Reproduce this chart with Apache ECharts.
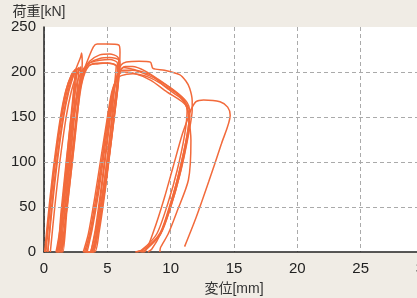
<!DOCTYPE html>
<html><head><meta charset="utf-8">
<script src="https://cdn.jsdelivr.net/npm/echarts@6/dist/echarts.min.js"></script>
<style>html,body{margin:0;padding:0;background:#f0ece5;}#c{width:417px;height:298px;}</style>
</head><body><div id="c"></div>
<script>
// Load [kN] vs displacement [mm] hysteresis curves, one array per specimen
var s1 = [[0.1,0],[0.45,50],[0.85,100],[1.35,150],[1.75,180],[2.2,198],[2.5,203],
  [2.38,185],[2.05,140],[1.65,80],[1.3,30],[1.05,0],
  [1.15,0],[1.45,40],[1.85,100],[2.3,150],[2.7,180],[3.1,200],[3.5,215],[3.9,228],[4.2,231],[5.0,231],[5.9,230],[6.0,222],
  [5.95,205],[5.7,170],[5.35,130],[5.0,90],[4.6,50],[4.1,15],[3.8,0],
  [3.9,0],[4.2,30],[4.55,70],[4.9,110],[5.2,145],[5.5,175],[5.8,198],[6.1,208],[6.5,211],[7.5,212],[8.4,211],[8.6,204],[9.5,202],[10.7,197],[11.2,190],[11.5,182],[11.7,168],[11.7,158],
  [11.4,130],[10.8,90],[10.0,50],[9.2,20],[7.8,2],[7.3,0]];
var s2 = [[0.3,0],[0.65,50],[1.05,100],[1.55,150],[1.95,178],[2.35,197],[2.65,208],[2.9,217],[2.97,221],
  [3.02,210],[2.8,175],[2.4,120],[1.9,60],[1.5,15],[1.3,0],
  [1.4,0],[1.7,40],[2.1,95],[2.5,145],[2.85,180],[3.2,200],[3.6,210],[4.4,213],[5.2,214],[5.8,210],
  [5.8,195],[5.5,160],[5.1,115],[4.7,70],[4.2,25],[3.7,0],
  [3.4,0],[3.8,25],[4.3,65],[4.75,110],[5.15,150],[5.5,180],[5.9,200],[6.4,206],[7.0,206],[8.0,201],[9.0,192],[10.0,182],[10.8,172],[11.3,160],[11.5,150],
  [11.3,125],[10.7,85],[10.0,50],[9.2,20],[8.5,3],[8.2,0]];
var s3 = [[0.15,0],[0.5,50],[0.9,100],[1.4,150],[1.8,178],[2.2,195],[2.6,204],
  [2.5,185],[2.2,135],[1.75,75],[1.35,25],[1.1,0],
  [1.2,0],[1.55,50],[1.95,105],[2.35,150],[2.75,185],[3.15,203],[3.6,212],[4.4,219],[5.2,220],[5.8,217],[6.0,210],
  [5.85,185],[5.5,145],[5.1,100],[4.65,55],[4.2,18],[3.9,0],
  [3.7,0],[4.05,25],[4.45,65],[4.85,110],[5.2,150],[5.55,182],[5.9,200],[6.3,205],[7.0,203],[8.4,197],[9.7,182],[10.7,172],[11.2,165],[11.5,156],
  [11.3,130],[10.7,90],[10.0,55],[9.2,22],[8.0,2],[7.6,0]];
var s4 = [[0.5,0],[0.85,50],[1.25,100],[1.75,150],[2.15,178],[2.55,196],[2.9,206],
  [2.8,185],[2.45,130],[2.0,70],[1.6,20],[1.4,0],
  [1.5,0],[1.8,45],[2.2,100],[2.6,150],[2.95,185],[3.35,203],[3.8,209],[4.6,210],[5.4,209],[5.9,204],
  [5.85,185],[5.55,150],[5.2,110],[4.8,65],[4.35,22],[4.0,0],
  [3.2,0],[3.6,20],[4.1,60],[4.6,105],[5.0,145],[5.4,178],[5.8,195],[6.2,200],[7.0,199],[8.4,191],[9.7,178],[10.7,169],[11.2,163],[11.4,152],
  [11.6,124],[11.4,80],[10.5,45],[9.8,20],[9.2,5],[9.15,0]];
var s5 = [[0.05,0],[0.4,50],[0.8,100],[1.3,150],[1.7,178],[2.15,196],[2.5,203],
  [2.4,185],[2.1,135],[1.6,70],[1.2,20],[0.95,0],
  [1.05,0],[1.35,45],[1.75,100],[2.15,150],[2.55,185],[2.95,200],[3.4,207],[4.2,209],[5.0,210],[5.7,207],
  [5.6,190],[5.35,150],[5.0,105],[4.55,60],[4.0,18],[3.6,0],
  [3.1,0],[3.5,20],[4.0,60],[4.5,105],[4.95,145],[5.35,178],[5.75,192],[6.1,196],[7.0,198],[8.3,194],[9.6,184],[10.6,175],[11.1,168],[11.3,158],
  [11.1,130],[10.5,90],[9.8,55],[8.9,20],[7.7,2],[7.2,0]];
var s6 = [[0.3,0],[0.6,50],[1.0,100],[1.5,150],[1.9,178],[2.3,196],[2.75,205],
  [2.65,185],[2.3,135],[1.85,70],[1.45,20],[1.2,0],
  [1.3,0],[1.6,45],[2.0,100],[2.4,150],[2.8,185],[3.2,202],[3.6,210],[4.4,215],[5.2,216],[5.9,213],
  [5.85,195],[5.55,155],[5.15,110],[4.7,62],[4.25,20],[3.85,0],
  [3.3,0],[3.7,22],[4.2,62],[4.65,108],[5.05,148],[5.45,180],[5.85,197],[6.2,202],[7.0,202],[8.3,196],[9.6,186],[10.6,176],[11.3,166],[11.5,157],
  [11.3,130],[10.6,85],[9.9,48],[9.1,18],[8.0,2],[7.7,0],
  [7.9,0],[8.7,25],[9.5,60],[10.2,95],[10.9,130],[11.4,150],[11.6,158],[12.0,167],[12.6,169],[13.9,167],[14.5,161],[14.7,152],
  [14.0,120],[13.0,78],[12.0,38],[11.1,6]];
var specimens = [s1, s2, s3, s4, s5, s6];
var yGrid = [50, 100, 150, 200];
var xName = '変位[mm]';
var yName = '荷重[kN]';

var chart = echarts.init(document.getElementById('c'), null, {renderer: 'canvas'});
var font = "'Liberation Sans', Arial, 'Noto Sans CJK JP', sans-serif";
var series = specimens.map(function (d) {
  return {type: 'line', data: d, showSymbol: false, symbol: 'none', smooth: 0.25, z: 3,
    lineStyle: {color: '#f26a3b', width: 1.5}, silent: true, animation: false};
});
series.unshift({type: 'line', data: [], z: 1, silent: true, animation: false,
  markLine: {silent: true, symbol: 'none', label: {show: false}, animation: false,
    lineStyle: {color: '#aaaaaa', type: [4, 3], width: 1},
    data: yGrid.map(function (v) { return {yAxis: v}; })}});
chart.setOption({
  backgroundColor: '#f0ece5',
  animation: false,
  grid: {left: 44, top: 27, right: -7, bottom: 46, show: true, backgroundColor: '#ffffff', borderWidth: 0,
    containLabel: false, outerBoundsMode: 'none'},
  xAxis: {type: 'value', min: 0, max: 30, interval: 5,
    name: xName, nameLocation: 'middle', nameGap: 30,
    nameTextStyle: {fontFamily: font, fontSize: 14, color: '#333'},
    axisLine: {show: true, onZero: false, lineStyle: {color: '#222', width: 1.5}},
    axisTick: {show: false},
    axisLabel: {fontFamily: font, fontSize: 15, color: '#222', margin: 9},
    splitLine: {show: true, lineStyle: {color: '#aaaaaa', type: [4, 3], width: 1}}},
  yAxis: {type: 'value', min: 0, max: 250, interval: 50,
    name: yName, nameLocation: 'end', nameGap: 8,
    nameTextStyle: {fontFamily: font, fontSize: 14, color: '#333', align: 'center', padding: [0, 10, 0, 0]},
    axisLine: {show: true, onZero: false, lineStyle: {color: '#222', width: 1.5}},
    axisTick: {show: false},
    axisLabel: {fontFamily: font, fontSize: 15, color: '#222', margin: 8},
    splitLine: {show: false}},
  series: series
});
</script></body></html>
